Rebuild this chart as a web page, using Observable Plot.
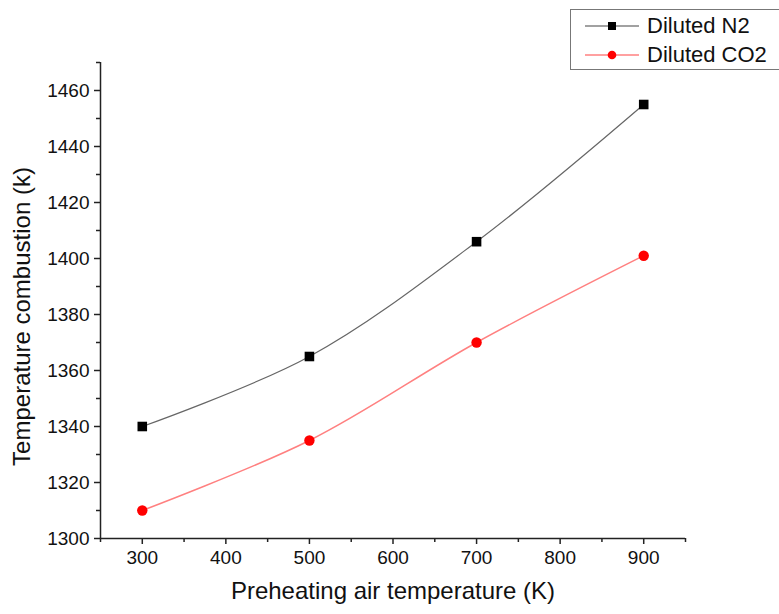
<!DOCTYPE html>
<html>
<head>
<meta charset="utf-8">
<script src="https://cdn.jsdelivr.net/npm/d3@7"></script>
<script src="https://cdn.jsdelivr.net/npm/@observablehq/plot@0.6"></script>
<style>
  body { margin: 0; background: #fff; font-family: "Liberation Sans", Arial, sans-serif; }
  #wrap { position: relative; width: 779px; height: 614px; overflow: hidden; }
  #legend { position: absolute; left: 570px; top: 9px; width: 220px; height: 61px; border: 1.3px solid #777; background: #fff; box-sizing: border-box; }
  .row { position: absolute; left: 0; height: 26px; display: flex; align-items: center; font-size: 22px; color: #111; }
  .row svg { margin-left: 14px; margin-right: 8px; }
</style>
</head>
<body>
<div id="wrap">
  <div id="chart"></div>
  <div id="legend">
    <div class="row" style="top:3px">
      <svg width="54" height="12"><line x1="0" x2="54" y1="6" y2="6" stroke="#444" stroke-width="1.1"/><rect x="23" y="2" width="8" height="8" fill="#000"/></svg>Diluted N2
    </div>
    <div class="row" style="top:32px">
      <svg width="54" height="12"><line x1="0" x2="54" y1="6" y2="6" stroke="#ff8080" stroke-width="1.5"/><circle cx="27" cy="6" r="4.3" fill="#f00"/></svg>Diluted CO2
    </div>
  </div>
</div>
<script>
const preheat = [300, 500, 700, 900];
const n2 = [1340, 1365, 1406, 1455];
const co2 = [1310, 1335, 1370, 1401];
const xMajor = [300, 400, 500, 600, 700, 800, 900];
const xMinor = [250, 350, 450, 550, 650, 750, 850, 950];
const yMajor = [1300, 1320, 1340, 1360, 1380, 1400, 1420, 1440, 1460];
const yMinor = [1310, 1330, 1350, 1370, 1390, 1410, 1430, 1450, 1470];

const dN2 = preheat.map((x, i) => ({x, y: n2[i]}));
const dCO2 = preheat.map((x, i) => ({x, y: co2[i]}));

const chart = Plot.plot({
  width: 779,
  height: 614,
  marginLeft: 100,
  marginRight: 94,
  marginTop: 62,
  marginBottom: 76,
  style: { fontFamily: "Liberation Sans, Arial, sans-serif", fontSize: "19px", color: "#111", background: "#fff" },
  x: { domain: [250, 950] },
  y: { domain: [1300, 1470] },
  marks: [
    Plot.axisX(xMajor, { tickSize: 6, tickPadding: 6, label: null, stroke: "#222", strokeWidth: 1.5, tickFormat: d => String(d), fontSize: 19 }),
    Plot.axisX(xMinor, { tickSize: 4, text: null, label: null, stroke: "#222", strokeWidth: 1.5 }),
    Plot.axisY(yMajor, { tickSize: 6, tickPadding: 5, label: null, stroke: "#222", strokeWidth: 1.5, tickFormat: d => String(d), fontSize: 19 }),
    Plot.axisY(yMinor, { tickSize: 4, text: null, label: null, stroke: "#222", strokeWidth: 1.5 }),
    Plot.ruleX([250], { stroke: "#222", strokeWidth: 1.5 }),
    Plot.ruleY([1300], { stroke: "#222", strokeWidth: 1.5 }),
    Plot.line(dN2, { x: "x", y: "y", curve: "catmull-rom", stroke: "#666", strokeWidth: 1.2 }),
    Plot.line(dCO2, { x: "x", y: "y", curve: "catmull-rom", stroke: "#ff8080", strokeWidth: 1.5 }),
    Plot.dot(dN2, { x: "x", y: "y", symbol: "square", r: 5.4, fill: "#000" }),
    Plot.dot(dCO2, { x: "x", y: "y", symbol: "circle", r: 5.2, fill: "#f00" }),
    Plot.text(["Preheating air temperature (K)"], { frameAnchor: "bottom", dy: 60, fontSize: 24, fill: "#111" }),
    Plot.text(["Temperature combustion (k)"], { frameAnchor: "left", dx: -78, dy: 16, rotate: -90, textAnchor: "middle", fontSize: 24, fill: "#111" })
  ]
});
document.getElementById("chart").appendChild(chart);
</script>
</body>
</html>
